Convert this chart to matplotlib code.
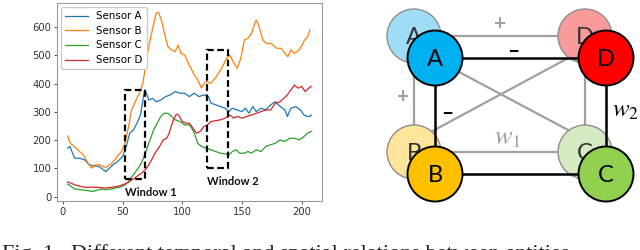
import matplotlib
matplotlib.use("Agg")
import matplotlib.pyplot as plt
from matplotlib.patches import Circle, Rectangle

plt.rcParams["mathtext.fontset"] = "stix"

# ---- sensor readings ----
x_a = [4, 6, 8, 10, 14, 18, 22, 26, 30, 34, 36, 39, 42, 46, 50, 53, 56, 59, 62, 65,
       67, 68.5, 70, 72, 75, 78, 82, 86, 90, 94, 98, 102, 106, 110, 114, 118, 122,
       124, 128, 132, 136, 139, 142, 146, 150, 153, 156, 159, 162, 166, 170, 174,
       178, 182, 186, 188, 191, 195, 199, 202, 205, 207, 208]
sensor_a = [172, 178, 154, 136, 136, 131, 113, 109, 107, 95, 89, 101, 113, 125, 142,
            178, 225, 236, 260, 289, 342, 378, 366, 342, 348, 336, 342, 354, 360, 372,
            366, 366, 354, 366, 354, 360, 354, 331, 325, 319, 313, 301, 313, 307, 301,
            313, 295, 319, 301, 313, 307, 325, 336, 319, 307, 284, 313, 319, 307, 289,
            284, 284, 289]

x_b = [4, 6, 11, 17, 21, 24, 27, 31, 34, 37, 41, 43.5, 46, 49, 52, 55, 57.5, 60, 64,
       67, 70, 73, 75.5, 78, 80, 82.5, 85, 88, 91, 94, 96.5, 99, 102, 105, 108, 110,
       113, 116, 117.5, 120, 124, 128.5, 133, 137, 140, 142.5, 146, 149, 152, 155,
       158, 160.5, 162, 164, 167.5, 170.5, 174.5, 179, 183, 186, 188.5, 191, 194,
       198, 202.5, 205, 207]
sensor_b = [215, 190, 172, 148, 119, 101, 113, 113, 105, 105, 119, 131, 145, 160, 190,
            248, 307, 331, 366, 401, 484, 554, 601, 648, 652, 625, 578, 531, 519, 513,
            536, 507, 501, 472, 448, 431, 413, 384, 395, 407, 401, 425, 454, 489, 501,
            478, 454, 489, 554, 560, 578, 610, 625, 607, 554, 542, 542, 525, 525, 507,
            495, 519, 507, 519, 554, 566, 590]

x_c = [4, 7, 10, 15, 20, 25, 28, 32, 36, 40, 44, 48, 52, 55, 58, 61, 64, 67, 70, 73,
       76, 79, 82, 85, 88, 91, 94, 98, 102, 106, 108, 110, 113, 116, 120, 124, 128,
       132, 136, 139, 142, 145, 148, 152, 155, 158, 162, 166, 170, 174, 178, 182,
       186, 190, 194, 198, 202, 205, 208]
sensor_c = [45, 36, 27, 25, 22, 19, 22, 27, 25, 27, 31, 34, 42, 54, 72, 89, 107, 131,
            166, 201, 236, 260, 284, 295, 295, 284, 272, 266, 254, 254, 242, 225, 189,
            178, 172, 166, 160, 154, 152, 148, 160, 166, 154, 154, 160, 154, 166, 160,
            178, 184, 189, 201, 195, 207, 207, 201, 213, 225, 231]

x_d = [4, 7, 10, 15, 20, 25, 30, 35, 40, 45, 50, 55, 58, 62, 66, 69, 72, 75, 78, 81,
       84, 87, 89, 92, 95, 97, 100, 103, 106, 109, 112, 115, 118, 121, 124, 128, 132,
       136, 140, 143, 146, 150, 154, 158, 162, 166, 170, 174, 178, 182, 185, 188,
       191, 194, 197, 200, 203, 206, 208]
sensor_d = [52, 48, 42, 36, 33, 34, 33, 31, 33, 36, 42, 51, 60, 72, 84, 95, 113, 136,
            160, 178, 201, 207, 225, 266, 292, 289, 266, 260, 260, 242, 225, 231, 248,
            254, 266, 269, 272, 278, 289, 278, 284, 278, 284, 289, 295, 301, 307, 307,
            331, 336, 348, 360, 378, 395, 384, 390, 372, 384, 390]

series = [("Sensor A", x_a, sensor_a, "#1f77b4"),
          ("Sensor B", x_b, sensor_b, "#ff7f0e"),
          ("Sensor C", x_c, sensor_c, "#2ca02c"),
          ("Sensor D", x_d, sensor_d, "#d62728")]

# dashed windows: (x0, x1, y0, y1) in data units, label
windows = [(52, 69, 63, 378, "Window 1"),
           (121, 138, 102, 520, "Window 2")]
window_label_pos = [(52, 14), (121, 53)]

# graph nodes: name -> light centre, solid centre (pixels), light fill, solid fill
nodes = {
    "A": ((414, 36), (435, 58), "#9fdcf6", "#00b0f0"),
    "D": ((585, 36), (606, 58), "#fb9a9a", "#ff0000"),
    "B": ((414, 152), (435, 174), "#ffe59b", "#ffc000"),
    "C": ((585, 152), (606, 174), "#d5eac2", "#92d050"),
}

caption = "Fig. 1.  Different temporal and spatial relations between entities"

fig = plt.figure(figsize=(6.4, 2.5), dpi=100)

# ---------- left: time series ----------
ax = fig.add_axes([0.089, 0.196, 0.414, 0.792])
for name, xs, ys, col in series:
    ax.plot(xs, ys, color=col, lw=0.9, label=name)

for (x0, x1, y0, y1, lab), (lx, ly) in zip(windows, window_label_pos):
    ax.add_patch(Rectangle((x0, y0), x1 - x0, y1 - y0, fill=False,
                           ec="black", lw=1.6, ls=(0, (3, 1.6)), zorder=5))
    ax.text(lx, ly, lab, fontsize=8, fontweight="bold", family="Lato",
            va="center", ha="left", color="#111111")

ax.set_xlim(-5, 217)
ax.set_ylim(-15, 685)
ax.set_xticks([0, 50, 100, 150, 200])
ax.set_yticks([0, 100, 200, 300, 400, 500, 600])
ax.tick_params(labelsize=7.2, length=2.5, width=0.6, colors="#333333", pad=1.5)
for s in ax.spines.values():
    s.set_color("#9a9a9a")
    s.set_linewidth(0.8)
ax.legend(loc="upper left", fontsize=7.4, handlelength=2.2,
          borderaxespad=0.4, labelspacing=0.45, framealpha=1,
          edgecolor="#cccccc", fancybox=True)

# ---------- right: relation graph (pixel coordinates) ----------
g = fig.add_axes([0, 0, 1, 1], zorder=-1)
g.set_xlim(0, 640)
g.set_ylim(250, 0)
g.axis("off")

GRAY = "#a0a0a0"
la, ld, lb, lc = (nodes[k][0] for k in "ADBC")
sa, sd, sb, sc = (nodes[k][1] for k in "ADBC")

# light layer: rectangle + diagonals
for p, q in [(la, ld), (lb, lc), (la, lb), (ld, lc)]:
    g.plot([p[0], q[0]], [p[1], q[1]], color=GRAY, lw=1.6, zorder=1)
g.plot([414, 585], [48, 139], color=GRAY, lw=1.6, zorder=1)
g.plot([414, 585], [141, 49], color=GRAY, lw=1.6, zorder=1)

for k, (lc_, sc_, lfill, sfill) in nodes.items():
    g.add_patch(Circle(lc_, 27, fc=lfill, ec="#8f8f8f", lw=1.0, zorder=2))
    g.text(lc_[0], lc_[1] + 1, k, ha="center", va="center", fontsize=17,
           family="Lato", color="#333333", zorder=2.5)

# solid layer
for p, q in [(sa, sd), (sb, sc), (sa, sb), (sd, sc)]:
    g.plot([p[0], q[0]], [p[1], q[1]], color="black", lw=1.8, zorder=3)
for k, (lc_, sc_, lfill, sfill) in nodes.items():
    g.add_patch(Circle(sc_, 27.5, fc=sfill, ec="black", lw=1.4, zorder=4))
    g.text(sc_[0], sc_[1] + 1, k, ha="center", va="center", fontsize=17,
           family="Lato", color="black", zorder=5)

g.text(500, 24, "+", ha="center", va="center", fontsize=15, color=GRAY,
       family="Lato", fontweight="bold", zorder=5)
g.text(513, 51, "\u2013", ha="center", va="center", fontsize=15, color="black",
       family="Lato", fontweight="bold", zorder=5)
g.text(403, 97, "+", ha="center", va="center", fontsize=15, color=GRAY,
       family="Lato", fontweight="bold", zorder=5)
g.text(447, 113, "\u2013", ha="center", va="center", fontsize=15, color="black",
       family="Lato", fontweight="bold", zorder=5)
g.text(508, 137, r"$w_1$", ha="center", va="center", fontsize=19, color=GRAY,
       zorder=5)
g.text(612, 110, r"$w_2$", ha="left", va="center", fontsize=18, color="black",
       zorder=5)

# caption, cut off at the bottom edge as in the source figure
fig.text(2 / 640, 1 - 244 / 250, caption, ha="left", va="top", fontsize=16,
         family="Liberation Serif", color="#222222")

fig.savefig("out.png", dpi=100, facecolor="white")
